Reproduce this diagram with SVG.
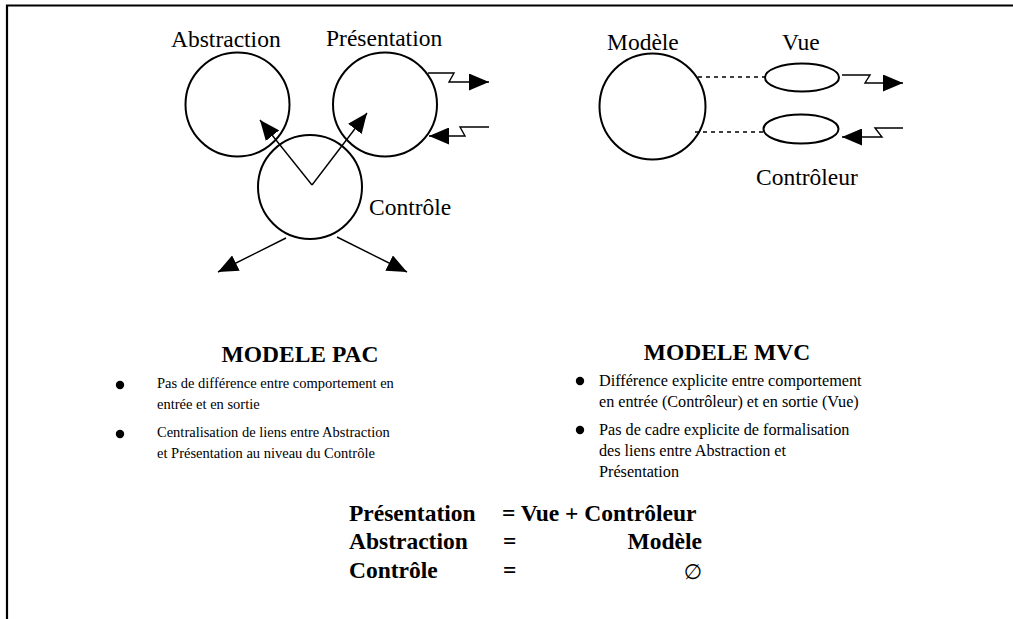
<svg xmlns="http://www.w3.org/2000/svg" width="1013" height="619" viewBox="0 0 1013 619">
<style>
.lbl{font-family:"Liberation Serif","Times New Roman",serif;font-size:23.5px;fill:#000}
.tb{font-family:"Liberation Serif","Times New Roman",serif;font-size:23.5px;font-weight:bold;fill:#000}
.eq{font-family:"Liberation Serif","Times New Roman",serif;font-size:23.5px;font-weight:bold;fill:#000}
.bp{font-family:"Liberation Serif","Times New Roman",serif;font-size:14.5px;fill:#000}
.bm{font-family:"Liberation Serif","Times New Roman",serif;font-size:16.2px;fill:#000}
.node{fill:none;stroke:#000;stroke-width:2}
.con{fill:none;stroke:#000;stroke-width:1.4}
.dash{fill:none;stroke:#000;stroke-width:1.4;stroke-dasharray:4 4}
</style>
<defs>
<marker id="ah" viewBox="0 0 20 17" refX="20" refY="8.5" markerWidth="20" markerHeight="17" markerUnits="userSpaceOnUse" orient="auto">
<path d="M0,0 L20,8.5 L0,17 z" fill="#000"/>
</marker>
</defs>
<rect width="1013" height="619" fill="#fff"/>
<path d="M7,619 L7,5.5 L1013,5.5" fill="none" stroke="#000" stroke-width="2.2"/>

<g id="abstraction">
<circle class="node" cx="237.5" cy="104.5" r="52"/>
<text class="lbl" x="171" y="47">Abstraction</text>
</g>
<g id="presentation">
<circle class="node" cx="385" cy="104.5" r="52"/>
<text class="lbl" x="326" y="46">Présentation</text>
</g>
<g id="controle">
<circle class="node" cx="310" cy="187" r="52"/>
<text class="lbl" x="369" y="215">Contrôle</text>
</g>
<g id="modele">
<circle class="node" cx="652.5" cy="106.5" r="53"/>
<text class="lbl" x="607" y="50">Modèle</text>
</g>
<g id="vue">
<ellipse class="node" cx="802" cy="77.5" rx="37" ry="14"/>
<text class="lbl" x="782" y="50">Vue</text>
</g>
<g id="controleur">
<ellipse class="node" cx="801" cy="129" rx="37.5" ry="14.5"/>
<text class="lbl" x="756" y="185">Contrôleur</text>
</g>

<g id="connectors">
<path class="con" d="M312,185 L260,120" marker-end="url(#ah)"/>
<path class="con" d="M312,185 L367,113" marker-end="url(#ah)"/>
<path class="con" d="M286,238 L218,272" marker-end="url(#ah)"/>
<path class="con" d="M337,237 L407,272" marker-end="url(#ah)"/>
<path class="con" d="M428,73 L454,73 L449,82 L489,82" marker-end="url(#ah)"/>
<path class="con" d="M489,127 L460,127 L465,136 L429,136" marker-end="url(#ah)"/>
<path class="dash" d="M698,77 L765,77"/>
<path class="dash" d="M695,132 L763,132"/>
<path class="con" d="M842,75 L870,75 L865,83 L903,83" marker-end="url(#ah)"/>
<path class="con" d="M903,128 L875,128 L882,137 L842,137" marker-end="url(#ah)"/>
</g>

<g id="pac-text">
<text class="tb" x="300" y="362" text-anchor="middle">MODELE PAC</text>
<circle cx="120" cy="385" r="4.2" fill="#000"/>
<circle cx="120" cy="434" r="4.2" fill="#000"/>
<text class="bp" x="157" y="388">Pas de différence entre comportement en</text>
<text class="bp" x="157" y="409">entrée et en sortie</text>
<text class="bp" x="157" y="437">Centralisation de liens entre Abstraction</text>
<text class="bp" x="157" y="458">et Présentation au niveau du Contrôle</text>
</g>

<g id="mvc-text">
<text class="tb" x="727" y="360" text-anchor="middle">MODELE MVC</text>
<circle cx="580" cy="381" r="4.2" fill="#000"/>
<circle cx="580" cy="430" r="4.2" fill="#000"/>
<text class="bm" x="599" y="386">Différence explicite entre comportement</text>
<text class="bm" x="599" y="407">en entrée (Contrôleur) et en sortie (Vue)</text>
<text class="bm" x="599" y="435">Pas de cadre explicite de formalisation</text>
<text class="bm" x="599" y="456">des liens entre Abstraction et</text>
<text class="bm" x="599" y="477">Présentation</text>
</g>

<g id="equations">
<text class="eq" x="349" y="521">Présentation</text>
<text class="eq" x="502" y="521">= Vue + Contrôleur</text>
<text class="eq" x="349" y="549">Abstraction</text>
<text class="eq" x="503" y="549">=</text>
<text class="eq" x="702" y="549" text-anchor="end">Modèle</text>
<text class="eq" x="349" y="578">Contrôle</text>
<text class="eq" x="503" y="578">=</text>
<text x="702" y="579" text-anchor="end" style="font-family:'DejaVu Sans',sans-serif;font-size:21px">∅</text>
</g>
</svg>
